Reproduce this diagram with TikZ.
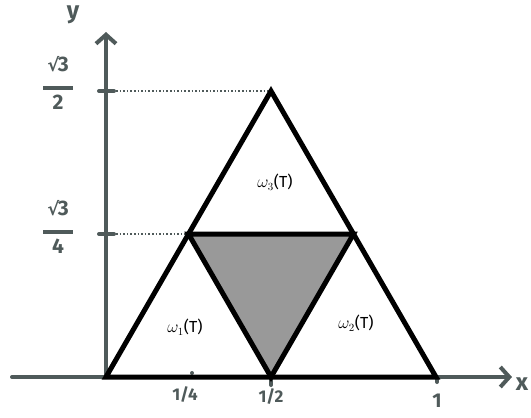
\documentclass[tikz,border=0pt]{standalone}
\usepackage{fontspec}
\setmainfont{Fira Sans}
\newfontfamily\symfont{DejaVu Sans}
\usetikzlibrary{arrows.meta}
\definecolor{axisgrey}{HTML}{4F5A5A}
\definecolor{fillgrey}{HTML}{999999}
\newcommand{\hfrac}[2]{\begin{tabular}{@{}c@{}}#1\\[-6pt]\rule{30pt}{3.4pt}\\[-4pt]#2\end{tabular}}
\newcommand{\rtthree}{{\symfont\bfseries\fontsize{18}{20}\selectfont √}\kern-1.5pt 3}
\tikzset{
  axisline/.style={draw=axisgrey, line width=4pt, line cap=round},
  tri/.style={draw=black, line width=5pt, line join=miter},
  dotline/.style={draw=axisgrey, line width=1.6pt, dotted},
  lab/.style={text=axisgrey, font=\fontsize{17}{20}\selectfont\bfseries, inner sep=1pt},
  fraclab/.style={text=axisgrey, font=\fontsize{21}{24}\selectfont\bfseries, inner sep=1pt},
  biglab/.style={text=axisgrey, font=\fontsize{24}{28}\selectfont\bfseries, inner sep=1pt},
  wlab/.style={text=black, font=\fontsize{16}{19}\selectfont, inner sep=1pt},
  tick/.style={draw=axisgrey, line width=4pt, line cap=round}
}
\begin{document}
\begin{tikzpicture}[x=1pt,y=-1pt]
\useasboundingbox (0,0) rectangle (531,418);
% coordinates
\coordinate (O) at (106,377);
\coordinate (A) at (436,377);
\coordinate (C) at (271,91);
\coordinate (M1) at (188.5,234);
\coordinate (M2) at (353.5,234);
\coordinate (M3) at (271,377);
\coordinate (xs) at (12,377);
\coordinate (xe) at (512,377);
\coordinate (ye) at (106,32);
\coordinate (t2) at (106,91);
\coordinate (t4) at (106,234);
% axes
\draw[axisline, -{Straight Barb[length=9pt,width=20pt,line width=4pt]}] (xs) -- (xe);
\draw[axisline, -{Straight Barb[length=9pt,width=20pt,line width=4pt]}] (O) -- (ye);
% ticks
\draw[tick] (99,91) -- (114,91);
\draw[tick] (99,234) -- (114,234);
\draw[tick] (271,377) -- (271,385);
\draw[tick] (437,377) -- (437,382);
\fill[axisgrey] (192,373) circle (2pt);
% dotted lines
\draw[dotline] (t2) ++(10,0) -- (C);
\draw[dotline] (t4) ++(10,0) -- (M1);
% triangles
\fill[fillgrey] (M1) -- (M2) -- (M3) -- cycle;
\draw[tri] (O) -- (A) -- (C) -- cycle;
\draw[tri] (M1) -- (M2) -- (M3) -- cycle;
% labels
\node[biglab] (ylab) at (73,15) {y};
\node[biglab] (xlab) at (522,384) {x};
\node[fraclab] (f2) at (58,86) {\hfrac{\rtthree}{2}};
\node[fraclab] (f4) at (58,230) {\hfrac{\rtthree}{4}};
\node[lab] (q) at (185,395) {1/4};
\node[lab] (h) at (271,397) {1/2};
\node[lab, font=\fontsize{20}{22}\selectfont\bfseries] (one) at (437,401) {1};
\node[wlab] (w1) at (185,327) {$\omega_1$(T)};
\node[wlab] (w2) at (356,323) {$\omega_2$(T)};
\node[wlab] (w3) at (275,182) {$\omega_3$(T)};
\end{tikzpicture}
\end{document}
